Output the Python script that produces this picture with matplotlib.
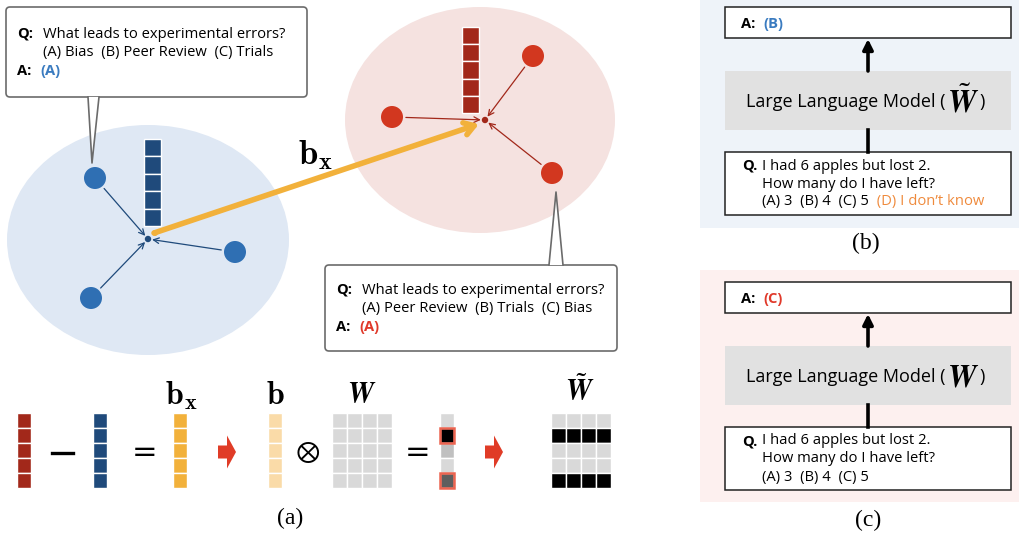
import matplotlib
matplotlib.use("Agg")
import matplotlib.pyplot as plt
from matplotlib.patches import Ellipse, Circle, Rectangle, FancyBboxPatch, Polygon, FancyArrow

# --- data -------------------------------------------------------------
blue_points = [(95, 178), (235, 252), (91, 298)]
blue_center = (148, 239)
red_points = [(392, 117), (533, 56), (552, 173)]
red_center = (485, 120)

q_left = ["What leads to experimental errors?", "(A) Bias  (B) Peer Review  (C) Trials"]
q_right = ["What leads to experimental errors?", "(A) Peer Review  (B) Trials  (C) Bias"]
q_apples = ["I had 6 apples but lost 2.", "How many do I have left?", "(A) 3  (B) 4  (C) 5"]

# shades of the W*b result column and rows of W tilde (0 = light, 1 = black)
result_cells = ["#d9d9d9", "#000000", "#c0c0c0", "#d9d9d9", "#5e5e5e"]
result_marked = [False, True, False, False, True]
wtilde_rows = [0, 1, 0, 0, 1]

BLUE = "#2f6fb3"
NAVY = "#1f4a7b"
RED = "#d2371f"
DARKRED = "#a2281a"
ORANGE = "#f2b13b"
TXT_BLUE = "#3a7bc0"
TXT_RED = "#e0392a"
TXT_ORANGE = "#ef8a3c"
SANS = ["Open Sans", "DejaVu Sans"]
FS = 10.6

fig = plt.figure(figsize=(10.19, 5.33), dpi=100)
ax = fig.add_axes([0, 0, 1, 1])
ax.set_xlim(0, 1019)
ax.set_ylim(533, 0)
ax.axis("off")


def column(x, y, w, h, color, edge="white", n=5):
    ch = h / n
    for i in range(n):
        c = color[i] if isinstance(color, list) else color
        ax.add_patch(Rectangle((x, y + i * ch), w, ch, facecolor=c, edgecolor=edge, lw=1))


def callout(x0, y0, x1, y1, tail_base, tail_tip):
    ax.add_patch(FancyBboxPatch((x0, y0), x1 - x0, y1 - y0,
                                boxstyle="round,pad=0,rounding_size=4",
                                facecolor="white", edgecolor="#6b6b6b", lw=1.2, zorder=3))
    (bx0, by), (bx1, _) = tail_base
    ax.add_patch(Polygon([(bx0, by), (bx1, by), tail_tip], closed=True,
                         facecolor="white", edgecolor="none", zorder=4))
    ax.plot([bx0, tail_tip[0], bx1], [by, tail_tip[1], by], color="#6b6b6b", lw=1.2, zorder=4)


def qa_text(x, y, lines, ans, ans_color, dy=18.5):
    ax.text(x, y, "Q:", fontsize=FS, family=SANS, weight="bold", va="center", zorder=5)
    for i, line in enumerate(lines):
        ax.text(x + 26, y + i * dy, line, fontsize=FS, family=SANS, va="center", zorder=5)
    ya = y + len(lines) * dy
    ax.text(x, ya, "A:", fontsize=FS, family=SANS, weight="bold", va="center", zorder=5)
    ax.text(x + 23, ya, ans, fontsize=FS, family=SANS, weight="bold", color=ans_color,
            va="center", zorder=5)


# --- panel (a): clusters ---------------------------------------------
ax.add_patch(Ellipse((148, 240), 282, 230, facecolor="#dfe8f4", edgecolor="none"))
ax.add_patch(Ellipse((480, 120), 270, 226, facecolor="#f5e2e0", edgecolor="none"))

for (px, py) in blue_points:
    ax.annotate("", xy=blue_center, xytext=(px, py),
                arrowprops=dict(arrowstyle="->", color=NAVY, lw=0.9, shrinkA=10, shrinkB=3))
    ax.add_patch(Circle((px, py), 11, facecolor=BLUE, edgecolor="none", zorder=3))
ax.add_patch(Circle(blue_center, 3.2, facecolor=NAVY, zorder=3))

for (px, py) in red_points:
    ax.annotate("", xy=red_center, xytext=(px, py),
                arrowprops=dict(arrowstyle="->", color=DARKRED, lw=0.9, shrinkA=10, shrinkB=3))
    ax.add_patch(Circle((px, py), 11, facecolor=RED, edgecolor="none", zorder=3))
ax.add_patch(Circle(red_center, 3.2, facecolor=DARKRED, zorder=3))

column(144, 139, 17, 87, NAVY)
column(462, 27, 17, 86, DARKRED)

ax.annotate("", xy=(479, 124), xytext=(154, 233),
            arrowprops=dict(arrowstyle="->,head_length=0.7,head_width=0.45", color=ORANGE,
                            lw=4, shrinkA=0, shrinkB=0, capstyle="round"))
ax.add_patch(Circle((155, 233), 3, facecolor=ORANGE, zorder=3))
ax.text(316, 155, r"$\mathbf{b}_{\mathbf{x}}$", fontsize=25, math_fontfamily="cm",
        ha="center", va="center")

callout(6, 7, 307, 97, [(88, 97), (99, 97)], (92, 163))
qa_text(17, 34, q_left, "(A)", TXT_BLUE)
callout(325, 265, 617, 351, [(549, 265), (563, 265)], (556, 192))
qa_text(336, 290, q_right, "(A)", TXT_RED)

# --- panel (a): equation row -----------------------------------------
cy0, ch = 413, 75
column(17, cy0, 14, ch, DARKRED)
ax.plot([52, 73], [453, 453], color="black", lw=2.4)
column(93, cy0, 14, ch, NAVY)
ax.text(145, 452, "=", fontsize=22, ha="center", va="center")
column(173, cy0, 14, ch, ORANGE)
ax.text(181, 396, r"$\mathbf{b}_{\mathbf{x}}$", fontsize=23, math_fontfamily="cm",
        ha="center", va="center")
ax.add_patch(FancyArrow(218, 452, 9, 0, width=13, head_width=33, head_length=9,
                        length_includes_head=False, color="#e03c27", lw=0))
column(268, cy0, 14, ch, "#fadba8")
ax.text(275, 395, r"$\mathbf{b}$", fontsize=23, math_fontfamily="cm", ha="center", va="center")
ax.text(308, 452, r"$\otimes$", fontsize=21, math_fontfamily="stix", ha="center", va="center")
for j in range(4):
    column(332 + j * 15, cy0, 15, ch, "#d9d9d9")
ax.text(362, 394, r"$\mathbfit{W}$", fontsize=21, math_fontfamily="stix", ha="center", va="center")
ax.text(418, 452, "=", fontsize=22, ha="center", va="center")
column(440, cy0, 14, ch, result_cells)
for i, marked in enumerate(result_marked):
    if marked:
        ax.add_patch(Rectangle((440, cy0 + i * 15), 14, 15, facecolor="none",
                               edgecolor="#ec6450", lw=1.8, zorder=4))
ax.add_patch(FancyArrow(485, 452, 9, 0, width=13, head_width=33, head_length=9,
                        length_includes_head=False, color="#e03c27", lw=0))
for j in range(4):
    column(551 + j * 15, cy0, 15, ch, ["black" if r else "#d9d9d9" for r in wtilde_rows])
ax.text(580, 390, r"$\tilde{\mathbfit{W}}$", fontsize=21, math_fontfamily="stix",
        ha="center", va="center")
ax.text(290, 518, "(a)", fontsize=17, family="Liberation Serif", ha="center", va="center")


# --- panels (b) and (c) ---------------------------------------------
def llm_panel(top, bg, ans, ans_color, wlabel, extra):
    ax.add_patch(Rectangle((700, top), 330, 228 if extra else 232, facecolor=bg, edgecolor="none"))
    a0 = top + 7 if extra else top + 12
    ax.add_patch(Rectangle((725, a0), 286, 31, facecolor="white", edgecolor="#222222", lw=1.1))
    ax.text(741, a0 + 17, "A:", fontsize=FS, family=SANS, weight="bold", va="center")
    ax.text(763, a0 + 17, ans, fontsize=FS, family=SANS, weight="bold", color=ans_color,
            va="center")
    l0 = a0 + 64
    ax.annotate("", xy=(868, a0 + 32), xytext=(868, l0),
                arrowprops=dict(arrowstyle="-|>,head_length=0.6,head_width=0.3", color="black",
                                lw=2.6, shrinkA=0, shrinkB=0))
    ax.add_patch(Rectangle((725, l0), 286, 59, facecolor="#e1e1e1", edgecolor="none"))
    ym = l0 + 31
    ax.text(946, ym, "Large Language Model (", fontsize=13, family=SANS,
            ha="right", va="center")
    ax.text(963, ym + 1, wlabel, fontsize=23, math_fontfamily="stix", ha="center", va="center")
    ax.text(979, ym, ")", fontsize=13, family=SANS, ha="left", va="center")
    q0 = l0 + 81
    ax.plot([868, 868], [l0 + 59, q0], color="black", lw=2.6)
    ax.add_patch(Rectangle((725, q0), 286, 63, facecolor="white", edgecolor="#222222", lw=1.1))
    ax.text(742, q0 + 14, "Q.", fontsize=FS, family=SANS, weight="bold", va="center")
    for i, line in enumerate(q_apples):
        t = ax.text(762, q0 + 14 + i * 18, line, fontsize=FS, family=SANS, va="center")
    if extra:
        ax.annotate("  " + extra, xy=(1, 0), xycoords=t, fontsize=FS, family=SANS,
                    color=TXT_ORANGE, va="bottom")


llm_panel(0, "#eef3f9", "(B)", TXT_BLUE, r"$\tilde{\mathbfit{W}}$", "(D) I don\u2019t know")
ax.text(866, 243, "(b)", fontsize=17, family="Liberation Serif", ha="center", va="center")
llm_panel(270, "#fdf0ef", "(C)", TXT_RED, r"$\mathbfit{W}$", None)
ax.text(868, 520, "(c)", fontsize=17, family="Liberation Serif", ha="center", va="center")

fig.savefig("out.png", dpi=100)
